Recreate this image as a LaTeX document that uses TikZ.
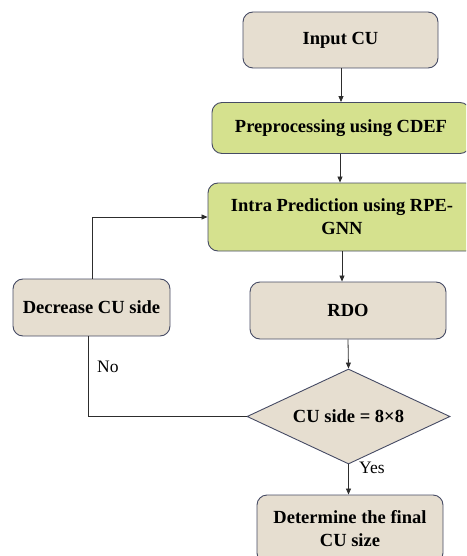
\documentclass[tikz,border=0pt]{standalone}
\usepackage{fontspec}
\setmainfont{Liberation Serif}
\usetikzlibrary{shapes.geometric,arrows.meta}
\definecolor{beige}{RGB}{230,222,208}
\definecolor{leaf}{RGB}{213,225,142}
\definecolor{edge}{RGB}{70,75,100}
\definecolor{wire}{RGB}{45,45,45}
\begin{document}
\begin{tikzpicture}[x=1pt,y=-1pt,
  box/.style={draw=edge,line width=0.9pt,rounded corners=10pt,inner sep=2pt,
    font=\fontsize{18.5}{23}\selectfont\bfseries,align=center,text=black},
  tan/.style={box,fill=beige},
  grn/.style={box,fill=leaf},
  dec/.style={diamond,draw=edge,line width=0.9pt,fill=beige,aspect=2.1,inner sep=1pt,
    font=\fontsize{18.5}{23}\selectfont\bfseries,text=black},
  lab/.style={font=\fontsize{17.5}{21}\selectfont,text=black,inner sep=0pt},
  conn/.style={draw=wire,line width=0.8pt},
  arr/.style={conn,-{Triangle[length=6pt,width=5pt]}}]
\useasboundingbox (0,0) rectangle (466,556);
\clip (0,0) rectangle (466,556);
\node[tan,minimum width=195pt,minimum height=56pt] (in) at (340.5,40) {Input CU};
\node[grn,minimum width=258pt,minimum height=51pt] (pre) at (341,128) {Preprocessing using CDEF};
\node[grn,minimum width=268pt,minimum height=68pt] (intra) at (342,217) {Intra Prediction using RPE-\\GNN};
\node[tan,minimum width=157pt,minimum height=57pt] (decr) at (91.5,307.5) {Decrease CU side};
\node[tan,minimum width=196pt,minimum height=57pt] (rdo) at (348,310.5) {RDO};
\node[dec,minimum width=203pt,minimum height=95pt] (dia) at (348.5,416.5) {CU side = 8×8};
\node[tan,minimum width=186pt,minimum height=68pt] (fin) at (350,529) {Determine the final\\CU size};
\draw[arr] (in.south -| 341,0) -- (pre.north -| 341,0);
\draw[arr] (pre.south -| 340,0) -- (intra.north -| 340,0);
\draw[arr] (intra.south -| 342,0) -- (rdo.north -| 342,0);
\draw[arr] (rdo.south) -- (dia.north);
\draw[arr] (dia.south) -- (fin.north -| dia.south);
\draw[conn] (dia.west) -| ([xshift=-3.5pt]decr.south);
\draw[arr] ([xshift=0.5pt]decr.north) |- (intra.west);
\node[lab,anchor=west] (no) at (97,367) {No};
\node[lab,anchor=west] (yes) at (359,468) {Yes};
\end{tikzpicture}
\end{document}
